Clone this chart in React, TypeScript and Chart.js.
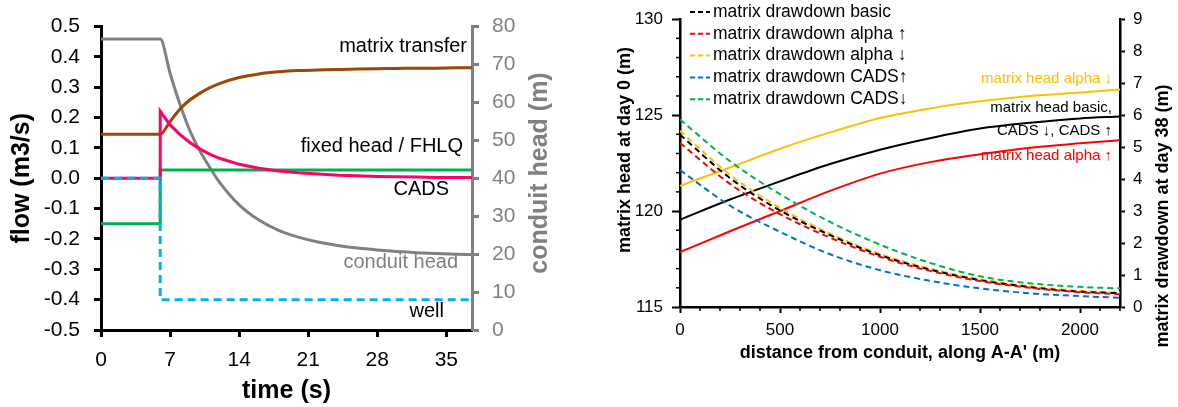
import React, { useEffect, useRef } from 'react';
import { Chart, registerables } from 'chart.js';

Chart.register(...registerables);

const FONT = "'Liberation Sans', Arial, Helvetica, sans-serif";
Chart.defaults.font.family = FONT;

// ---------- Panel 1: flow / conduit head vs time ----------
const timeTicks = [0, 7, 14, 21, 28, 35];
const timeSmooth = [0, 6, 7, 8, 9, 10, 11, 12, 14, 16, 18, 20, 22, 24, 26, 28, 30, 32, 34, 36, 37.6];
const conduitHead = [76.7, 76.7, 67.7, 59.5, 52.6, 47.3, 43, 39, 33, 29, 26.3, 24.5, 23.2, 22.3, 21.6, 21.1, 20.7, 20.4, 20.2, 20.0, 19.9];
const matrixTransfer = [0.145, 0.145, 0.187, 0.228, 0.258, 0.28, 0.298, 0.312, 0.332, 0.344, 0.351, 0.355, 0.357, 0.359, 0.36, 0.361, 0.362, 0.363, 0.363, 0.364, 0.364];
const timeStep = [0, 6, 6, 7, 8, 9, 10, 11, 12, 14, 16, 18, 20, 22, 24, 26, 28, 30, 32, 34, 36, 37.6];
const cadsFlow = [0, 0, 0.221, 0.176, 0.144, 0.118, 0.097, 0.08, 0.066, 0.046, 0.033, 0.024, 0.018, 0.014, 0.01, 0.008, 0.006, 0.005, 0.004, 0.003, 0.003, 0.003];
const fixedHeadTime = [0, 6, 6, 37.6];
const fixedHeadFlow = [-0.15, -0.15, 0.027, 0.027];
const wellTime = [0, 6, 6, 37.6];
const wellFlow = [0, 0, -0.4, -0.4];

// ---------- Panel 2: matrix head / drawdown vs distance ----------
const distanceTicks = [0, 500, 1000, 1500, 2000];
const distanceM = [0, 250, 500, 750, 1000, 1250, 1500, 1750, 2000, 2200];
const headAlphaDown = [121.31, 122.27, 123.25, 124.1, 124.85, 125.35, 125.72, 126.0, 126.18, 126.33];
const headBasic = [119.55, 120.6, 121.55, 122.45, 123.2, 123.8, 124.3, 124.6, 124.83, 124.93];
const headAlphaUp = [117.86, 118.95, 120.0, 121.05, 121.95, 122.55, 122.96, 123.3, 123.53, 123.69];
const ddBasic = [5.39, 4.03, 3.02, 2.25, 1.62, 1.17, 0.84, 0.62, 0.48, 0.43];
const ddAlphaUp = [5.13, 3.85, 2.9, 2.17, 1.57, 1.13, 0.81, 0.6, 0.46, 0.4];
const ddAlphaDown = [5.51, 4.13, 3.1, 2.3, 1.66, 1.2, 0.87, 0.65, 0.5, 0.45];
const ddCadsUp = [4.28, 3.17, 2.35, 1.65, 1.15, 0.82, 0.58, 0.43, 0.34, 0.29];
const ddCadsDown = [5.86, 4.56, 3.53, 2.66, 1.95, 1.38, 0.96, 0.74, 0.63, 0.58];

const toXY = (xs: number[], ys: number[]) => xs.map((x, i) => ({ x, y: ys[i] }));

type TextItem = {
  text: string; x: number; y: number; font: string; color: string;
  align?: CanvasTextAlign; baseline?: CanvasTextBaseline; rotate?: number;
};

const textPlugin = (items: TextItem[]) => ({
  id: 'textLabels',
  afterDraw(chart: any) {
    const ctx = chart.ctx as CanvasRenderingContext2D;
    items.forEach((it) => {
      ctx.save();
      ctx.font = it.font;
      ctx.fillStyle = it.color;
      ctx.textAlign = it.align || 'left';
      ctx.textBaseline = it.baseline || 'alphabetic';
      ctx.translate(it.x, it.y);
      if (it.rotate) ctx.rotate(it.rotate);
      ctx.fillText(it.text, 0, 0);
      ctx.restore();
    });
  },
});

type MinorSpec = { scaleId: string; step: number; major: number; length: number; width: number; color: string };
const minorTickPlugin = (specs: MinorSpec[]) => ({
  id: 'minorTicks',
  afterDraw(chart: any) {
    const ctx = chart.ctx as CanvasRenderingContext2D;
    specs.forEach((s) => {
      const sc = chart.scales[s.scaleId];
      ctx.save();
      ctx.strokeStyle = s.color;
      ctx.lineWidth = s.width;
      for (let v = sc.min; v <= sc.max + 1e-9; v += s.step) {
        const r = Math.abs(v / s.major - Math.round(v / s.major));
        if (r < 1e-6) continue;
        const p = sc.getPixelForValue(v);
        ctx.beginPath();
        if (sc.isHorizontal()) {
          ctx.moveTo(p, sc.top);
          ctx.lineTo(p, sc.top + s.length);
        } else {
          ctx.moveTo(sc.right, p);
          ctx.lineTo(sc.right - s.length, p);
        }
        ctx.stroke();
      }
      ctx.restore();
    });
  },
});

const dashLegendPlugin = (opt: { x: number; y: number; row: number; len: number; gap: number; font: string }) => ({
  id: 'dashLegend',
  afterDraw(chart: any) {
    const ctx = chart.ctx as CanvasRenderingContext2D;
    const items = chart.data.datasets.filter((d: any) => d.borderDash && d.borderDash.length);
    items.forEach((d: any, i: number) => {
      const y = opt.y + i * opt.row;
      ctx.save();
      ctx.strokeStyle = d.borderColor;
      ctx.lineWidth = d.borderWidth;
      ctx.setLineDash([5, 3]);
      ctx.beginPath();
      ctx.moveTo(opt.x, y);
      ctx.lineTo(opt.x + opt.len, y);
      ctx.stroke();
      ctx.setLineDash([]);
      ctx.font = opt.font;
      ctx.fillStyle = '#000';
      ctx.textAlign = 'left';
      ctx.textBaseline = 'middle';
      ctx.fillText(d.label, opt.x + opt.len + opt.gap, y);
      ctx.restore();
    });
  },
});

const GRAY = '#808080';
const setTicks = (values: number[]) => (s: any) => { s.ticks = values.map((v) => ({ value: v })); };

function makeConfig1(): any {
  const line = { pointRadius: 0, fill: false, borderWidth: 3, tension: 0 };
  return {
    type: 'line',
    data: {
      datasets: [
        { ...line, label: 'well', data: toXY(wellTime, wellFlow), borderColor: '#00B0F0', borderDash: [8, 5], yAxisID: 'y', order: 0 },
        { ...line, label: 'CADS', data: toXY(timeStep, cadsFlow), borderColor: '#FF0066', yAxisID: 'y', order: 1 },
        { ...line, label: 'fixed head / FHLQ', data: toXY(fixedHeadTime, fixedHeadFlow), borderColor: '#00B050', yAxisID: 'y', order: 2 },
        { ...line, label: 'matrix transfer', data: toXY(timeSmooth, matrixTransfer), borderColor: '#984807', yAxisID: 'y', order: 3, cubicInterpolationMode: 'monotone' },
        { ...line, label: 'conduit head', data: toXY(timeSmooth, conduitHead), borderColor: GRAY, yAxisID: 'y2', order: 4, cubicInterpolationMode: 'monotone' },
      ],
    },
    options: {
      responsive: false,
      animation: false,
      devicePixelRatio: 1,
      events: [],
      layout: { padding: { top: 17, left: 0, right: 0, bottom: 0 } },
      plugins: { legend: { display: false }, tooltip: { enabled: false } },
      scales: {
        x: {
          type: 'linear', min: 0, max: 37.6,
          afterBuildTicks: setTicks(timeTicks),
          ticks: { color: '#000', font: { size: 21 }, padding: 11, maxRotation: 0, autoSkip: false, callback: (v: any) => String(v) },
          grid: { display: true, drawOnChartArea: false, tickLength: 7, tickWidth: 3, tickColor: '#000' },
          border: { display: true, color: '#000', width: 3 },
          title: { display: true, text: 'time (s)', color: '#000', font: { size: 25, weight: 'bold' }, padding: { top: 0, bottom: 1 } },
          afterFit: (s: any) => { s.height = 77; },
        },
        y: {
          type: 'linear', position: 'left', min: -0.5, max: 0.5,
          ticks: {
            stepSize: 0.1, color: '#000', font: { size: 21 }, padding: 14, autoSkip: false,
            callback: (v: any) => { const n = Math.round(Number(v) * 10) / 10; return (n === 0 ? 0 : n).toFixed(1); },
          },
          grid: { display: true, drawOnChartArea: false, tickLength: 7, tickWidth: 3, tickColor: '#000' },
          border: { display: true, color: '#000', width: 3 },
          title: { display: true, text: 'flow (m3/s)', color: '#000', font: { size: 25, weight: 'bold' }, padding: { top: 7, bottom: 0 } },
          afterFit: (s: any) => { s.width = 101; },
        },
        y2: {
          type: 'linear', position: 'right', min: 0, max: 80,
          ticks: { stepSize: 10, color: GRAY, font: { size: 21 }, padding: 13, autoSkip: false },
          grid: { display: true, drawOnChartArea: false, tickLength: 7, tickWidth: 3, tickColor: GRAY },
          border: { display: true, color: GRAY, width: 3 },
          afterFit: (s: any) => { s.width = 118; },
        },
      },
    },
    plugins: [
      textPlugin([
        { text: 'conduit head (m)', x: 540, y: 173, font: `bold 25px ${FONT}`, color: GRAY, align: 'center', baseline: 'middle', rotate: -Math.PI / 2 },
        { text: 'matrix transfer', x: 467, y: 52, font: `20px ${FONT}`, color: '#000', align: 'right' },
        { text: 'fixed head / FHLQ', x: 463, y: 152, font: `20px ${FONT}`, color: '#000', align: 'right' },
        { text: 'CADS', x: 449, y: 195, font: `20px ${FONT}`, color: '#000', align: 'right' },
        { text: 'conduit head', x: 458, y: 268, font: `20px ${FONT}`, color: GRAY, align: 'right' },
        { text: 'well', x: 444, y: 317, font: `20px ${FONT}`, color: '#000', align: 'right' },
      ]),
    ],
  };
}

function makeConfig2(): any {
  const solid = { pointRadius: 0, fill: false, borderWidth: 2, cubicInterpolationMode: 'monotone', yAxisID: 'y' };
  const dashed = { pointRadius: 0, fill: false, borderWidth: 2, cubicInterpolationMode: 'monotone', yAxisID: 'y2', borderDash: [6, 4] };
  return {
    type: 'line',
    data: {
      datasets: [
        { ...dashed, label: 'matrix drawdown basic', data: toXY(distanceM, ddBasic), borderColor: '#000000', order: 3 },
        { ...dashed, label: 'matrix drawdown alpha \u2191', data: toXY(distanceM, ddAlphaUp), borderColor: '#FF0000', order: 1 },
        { ...dashed, label: 'matrix drawdown alpha \u2193', data: toXY(distanceM, ddAlphaDown), borderColor: '#FFC000', order: 4 },
        { ...dashed, label: 'matrix drawdown CADS\u2191', data: toXY(distanceM, ddCadsUp), borderColor: '#0070C0', order: 5 },
        { ...dashed, label: 'matrix drawdown CADS\u2193', data: toXY(distanceM, ddCadsDown), borderColor: '#00B050', order: 6 },
        { ...solid, label: 'matrix head alpha \u2193', data: toXY(distanceM, headAlphaDown), borderColor: '#FFC000', order: 7 },
        { ...solid, label: 'matrix head basic', data: toXY(distanceM, headBasic), borderColor: '#000000', order: 8 },
        { ...solid, label: 'matrix head alpha \u2191', data: toXY(distanceM, headAlphaUp), borderColor: '#FF0000', order: 9 },
      ],
    },
    options: {
      responsive: false,
      animation: false,
      devicePixelRatio: 1,
      events: [],
      layout: { padding: { top: 17, left: 0, right: 0, bottom: 0 } },
      plugins: { legend: { display: false }, tooltip: { enabled: false } },
      scales: {
        x: {
          type: 'linear', min: 0, max: 2200,
          afterBuildTicks: setTicks(distanceTicks),
          ticks: { color: '#000', font: { size: 17 }, padding: 7, maxRotation: 0, autoSkip: false, callback: (v: any) => String(v) },
          grid: { display: true, drawOnChartArea: false, tickLength: 6, tickWidth: 2, tickColor: '#000' },
          border: { display: true, color: '#000', width: 2.5 },
          title: { display: true, text: "distance from conduit, along A-A' (m)", color: '#000', font: { size: 18, weight: 'bold' }, padding: { top: 0, bottom: 43 } },
          afterFit: (s: any) => { s.height = 100; },
        },
        y: {
          type: 'linear', position: 'left', min: 115, max: 130,
          ticks: { stepSize: 5, color: '#000', font: { size: 17 }, padding: 9, autoSkip: false },
          grid: { display: true, drawOnChartArea: false, tickLength: 8, tickWidth: 2, tickColor: '#000' },
          border: { display: true, color: '#000', width: 2.5 },
          afterFit: (s: any) => { s.width = 90; },
        },
        y2: {
          type: 'linear', position: 'right', min: 0, max: 9,
          ticks: { stepSize: 1, color: '#000', font: { size: 17 }, padding: 8, autoSkip: false },
          grid: { display: true, drawOnChartArea: false, tickLength: 5, tickWidth: 2, tickColor: '#000' },
          border: { display: true, color: '#000', width: 2.5 },
          afterFit: (s: any) => { s.width = 58; },
        },
      },
    },
    plugins: [
      minorTickPlugin([
        { scaleId: 'x', step: 100, major: 500, length: 4, width: 1.5, color: '#000' },
        { scaleId: 'y', step: 1, major: 5, length: 4, width: 1.5, color: '#000' },
      ]),
      dashLegendPlugin({ x: 100, y: 12, row: 21.8, len: 20, gap: 3, font: `17.5px ${FONT}` }),
      textPlugin([
        { text: 'matrix head at day 0 (m)', x: 35, y: 150, font: `bold 18px ${FONT}`, color: '#000', align: 'center', baseline: 'middle', rotate: -Math.PI / 2 },
        { text: 'matrix drawdown at day 38 (m)', x: 573, y: 216, font: `bold 18px ${FONT}`, color: '#000', align: 'center', baseline: 'middle', rotate: -Math.PI / 2 },
        { text: 'matrix head alpha \u2193', x: 522, y: 83, font: `15px ${FONT}`, color: '#FFC000', align: 'right' },
        { text: 'matrix head basic,', x: 522, y: 112, font: `15px ${FONT}`, color: '#000', align: 'right' },
        { text: 'CADS \u2193, CADS \u2191', x: 522, y: 135, font: `15px ${FONT}`, color: '#000', align: 'right' },
        { text: 'matrix head alpha \u2191', x: 522, y: 160, font: `15px ${FONT}`, color: '#FF0000', align: 'right' },
      ]),
    ],
  };
}

export default function App() {
  const c1 = useRef<HTMLCanvasElement>(null);
  const c2 = useRef<HTMLCanvasElement>(null);
  useEffect(() => {
    const ch1 = new Chart(c1.current as HTMLCanvasElement, makeConfig1());
    const ch2 = new Chart(c2.current as HTMLCanvasElement, makeConfig2());
    return () => { ch1.destroy(); ch2.destroy(); };
  }, []);
  return (
    <div style={{ position: 'absolute', left: 0, top: 0, width: 1178, height: 407, background: '#fff', overflow: 'hidden' }}>
      <canvas ref={c1} width={590} height={407} style={{ position: 'absolute', left: 0, top: 0, width: 590, height: 407 }} />
      <canvas ref={c2} width={588} height={407} style={{ position: 'absolute', left: 590, top: 0, width: 588, height: 407 }} />
    </div>
  );
}
